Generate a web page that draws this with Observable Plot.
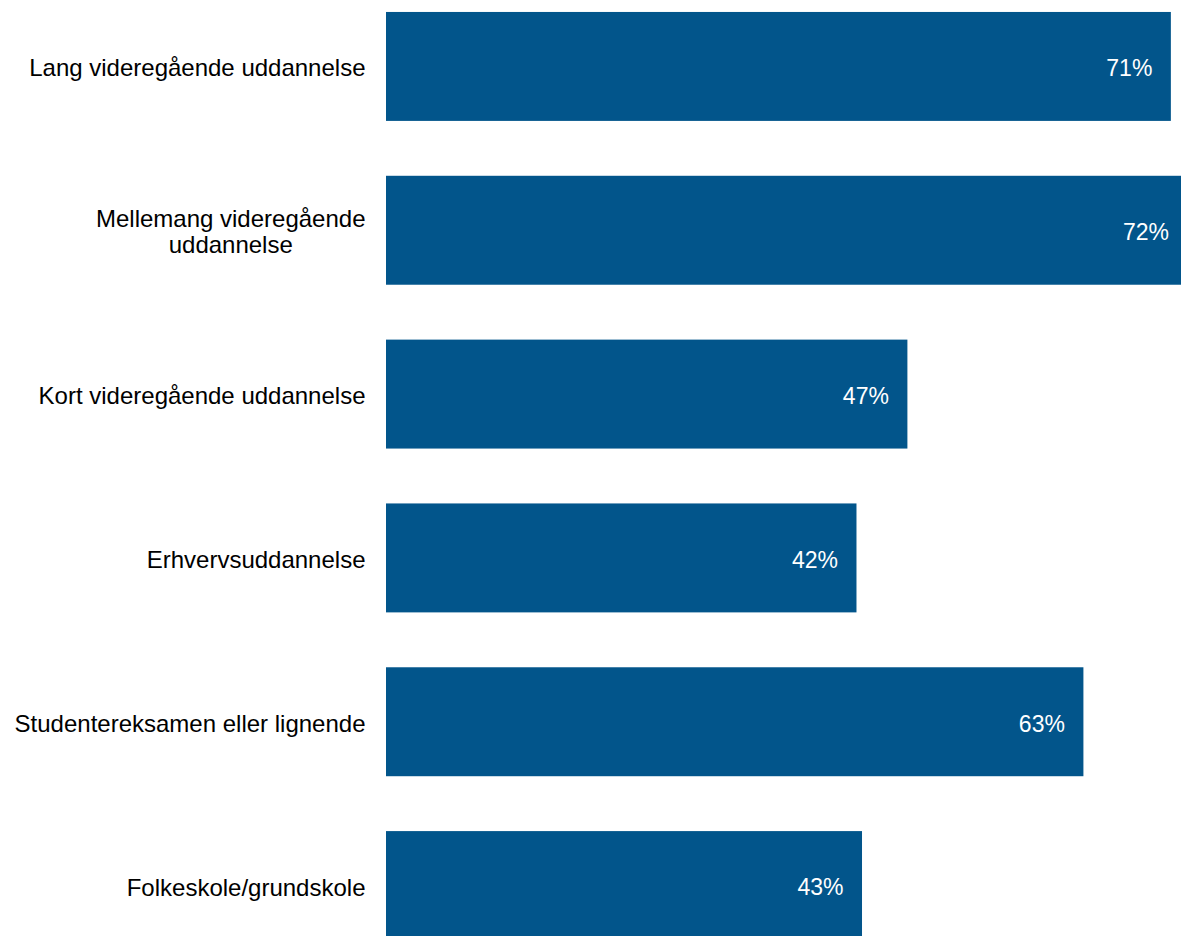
<!DOCTYPE html>
<html>
<head>
<meta charset="utf-8">
<script src="https://cdn.jsdelivr.net/npm/d3@7"></script>
<script src="https://cdn.jsdelivr.net/npm/@observablehq/plot@0.6"></script>
<style>
  html, body { margin: 0; padding: 0; background: #fff; overflow: hidden; }
  #chart svg { display: block; }
</style>
</head>
<body>
<div id="chart"></div>
<script>
const categories = [
  "Lang videregående uddannelse",
  "Mellemang videregående\nuddannelse",
  "Kort videregående uddannelse",
  "Erhvervsuddannelse",
  "Studentereksamen eller lignende",
  "Folkeskole/grundskole"
];
const values = [70.9, 72.4, 47.1, 42.5, 63.0, 43.0];
const valueLabels = ["71%", "72%", "47%", "42%", "63%", "43%"];

const data = categories.map((c, i) => ({cat: c, value: values[i], label: valueLabels[i]}));
const barColor = "#02558B";

const chart = Plot.plot({
  width: 1181,
  height: 936,
  marginLeft: 386,
  marginRight: 0,
  marginTop: 0,
  marginBottom: 0,
  style: {fontFamily: "'Liberation Sans', Arial, sans-serif", background: "#fff"},
  x: {domain: [0, 100], range: [386, 1493], axis: null},
  y: {domain: categories, range: [0, 952], paddingInner: 0.335, paddingOuter: 0.073, round: false, axis: null},
  marks: [
    Plot.barX(data, {x: "value", y: "cat", fill: barColor}),
    Plot.text(data, {
      x: "value", y: "cat", text: "label",
      textAnchor: "end", dx: -19, dy: 2, fill: "#fff", fontSize: 23
    }),
    Plot.text(data, {
      y: "cat", text: "cat", frameAnchor: "left",
      textAnchor: "end", dx: -21, dy: 1, fill: "#000", fontSize: 24, lineHeight: 1.1
    })
  ]
});
document.getElementById("chart").appendChild(chart);

// Center multi-line category labels relative to their widest line (kept right-aligned)
chart.querySelectorAll("text").forEach(t => {
  const spans = t.querySelectorAll("tspan");
  if (spans.length > 1) {
    let w = 0;
    spans.forEach(s => { w = Math.max(w, s.getComputedTextLength()); });
    t.setAttribute("text-anchor", "middle");
    spans.forEach(s => {
      const x0 = parseFloat(s.getAttribute("x") || "0");
      s.setAttribute("x", x0 - w / 2);
    });
  }
});
</script>
</body>
</html>
